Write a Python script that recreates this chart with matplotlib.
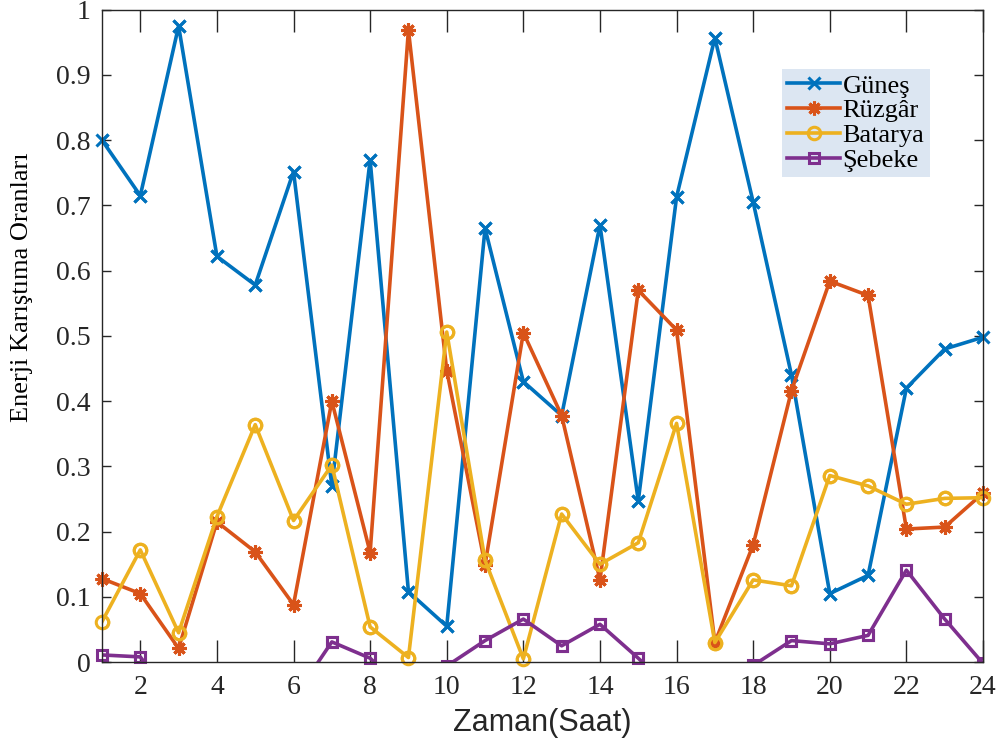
import matplotlib
matplotlib.use('Agg')
import matplotlib.pyplot as plt
import numpy as np

# Saatler
saat = np.arange(1, 25)

# Enerji karistirma oranlari
gunes = [0.80, 0.715, 0.975, 0.622, 0.578, 0.752, 0.27, 0.77, 0.108, 0.055, 0.665, 0.43,
         0.378, 0.67, 0.247, 0.713, 0.957, 0.705, 0.44, 0.105, 0.133, 0.42, 0.48, 0.498]
ruzgar = [0.128, 0.105, 0.021, 0.215, 0.169, 0.088, 0.40, 0.168, 0.969, 0.447, 0.149, 0.505,
          0.378, 0.126, 0.57, 0.509, 0.03, 0.18, 0.416, 0.584, 0.562, 0.204, 0.207, 0.259]
batarya = [0.062, 0.172, 0.045, 0.223, 0.364, 0.217, 0.302, 0.054, 0.007, 0.506, 0.156, 0.005,
           0.227, 0.15, 0.183, 0.366, 0.03, 0.126, 0.117, 0.286, 0.27, 0.242, 0.251, 0.252]
sebeke = [0.011, 0.008, -0.07, -0.1, -0.08, -0.056, 0.031, 0.006, -0.05, -0.006, 0.033, 0.066,
          0.025, 0.058, 0.006, -0.05, -0.08, -0.005, 0.033, 0.028, 0.041, 0.141, 0.066, -0.002]

seriler = [
    ('Güneş', gunes, '#0072BD', 'x', 8),
    ('Rüzgâr', ruzgar, '#D95319', (8, 2, 0), 10),
    ('Batarya', batarya, '#EDB120', 'o', 9),
    ('Şebeke', sebeke, '#7E2F8E', 's', 7),
]

plt.rcParams['font.family'] = ['Liberation Serif', 'DejaVu Serif']

fig = plt.figure(figsize=(10, 7.49), dpi=100)
ax = fig.add_axes([0.102, 0.116, 0.881, 0.871])

for isim, deger, renk, mk, ms in seriler:
    deger = np.array(deger)
    bos = 'none' if mk in ('o', 's') else renk
    ax.plot(saat, deger, color=renk, lw=2.6, marker=mk, ms=ms, mew=2.2, mfc=bos, label=isim)
    # sinir icindeki isaretler kesilmesin
    ic = (deger >= 0) & (deger <= 1)
    ax.plot(saat[ic], deger[ic], ls='none', color=renk, marker=mk, ms=ms, mew=2.2, mfc=bos,
            clip_on=False)

ax.set_xlim(1, 24)
ax.set_ylim(0, 1)
ax.set_xticks(np.arange(2, 25, 2))
ax.set_yticks(np.arange(0, 1.01, 0.1))
ax.set_yticklabels(['0', '0.1', '0.2', '0.3', '0.4', '0.5', '0.6', '0.7', '0.8', '0.9', '1'])

ax.tick_params(axis='x', direction='in', top=True, length=16, width=1,
               color='#262626', labelcolor='#262626', labelsize=20, pad=9)
ax.tick_params(axis='y', direction='in', right=True, length=6.5, width=1,
               color='#262626', labelcolor='#262626', labelsize=20, pad=8)
for s in ax.spines.values():
    s.set_color('#262626')
    s.set_linewidth(1)

ax.set_xlabel('Zaman(Saat)', fontsize=22, family='Liberation Sans', color='#262626', labelpad=6)
ax.set_ylabel('Enerji Karıştıma Oranları', fontsize=19, color='#000000')
ax.yaxis.set_label_coords(-0.078, 0.574)

leg = ax.legend(loc='upper left', bbox_to_anchor=(0.782, 0.908), bbox_transform=fig.transFigure,
                fontsize=19, frameon=True, fancybox=False, borderaxespad=0, borderpad=0.2,
                labelspacing=0.05, handlelength=2.0, handletextpad=0.1)
leg.get_frame().set_facecolor('#dce6f2')
leg.get_frame().set_edgecolor('none')
leg.get_frame().set_alpha(1)

fig.savefig('out.png', dpi=100)
